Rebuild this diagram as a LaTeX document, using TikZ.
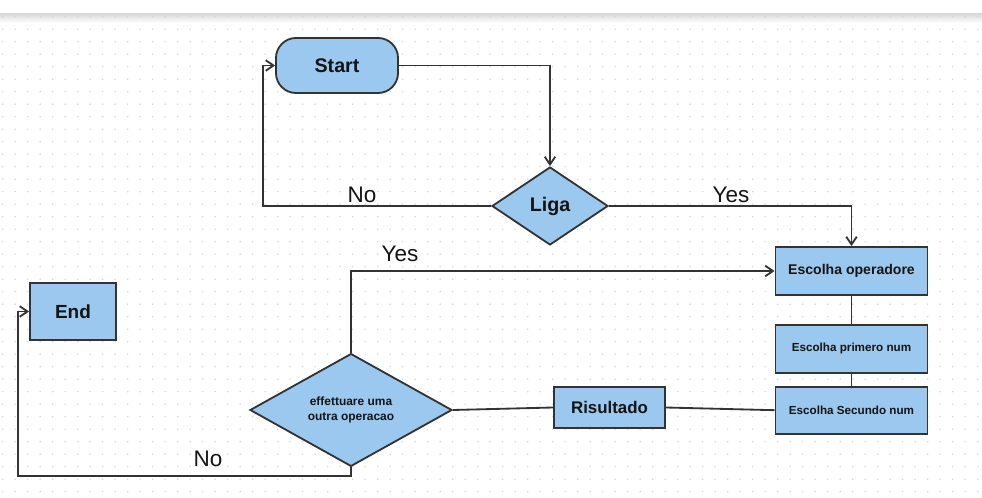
\documentclass[tikz,border=0pt]{standalone}
\usepackage{fontspec}
\setmainfont{Liberation Sans}
\usepackage{tikz}
\usetikzlibrary{shapes,positioning ,arrows.meta}
\usetikzlibrary{calc}

\definecolor{boxblue}{HTML}{9BC8EE}
\definecolor{edgegray}{HTML}{333333}
\definecolor{dotgray}{HTML}{D4D4D4}

\begin{document}
\begin{tikzpicture}[
    x=0.025cm, y=-0.025cm,
    base/.style={draw=edgegray, fill=boxblue, line width=1.3pt, text=black!92, inner sep=0pt, align=center},
    term/.style={base, rectangle, rounded corners=0.5cm, minimum width=3.05cm, minimum height=1.375cm, font=\fontsize{14}{16}\selectfont\bfseries},
    choice/.style={base, diamond, font=\fontsize{14}{16}\selectfont\bfseries},
    box/.style={base, rectangle, minimum width=3.8cm, minimum height=1.2cm, font=\fontsize{8.3}{10}\selectfont\bfseries},
    lbl/.style={font=\fontsize{16}{18}\selectfont, text=black!92},
    conn/.style={draw=edgegray, line width=1.3pt},
    arr/.style={conn, -{Straight Barb[length=5.5pt, width=7.5pt]}}
]
    \useasboundingbox (0,0) rectangle (982,498);
    \fill[white] (0,0) rectangle (982,498);
    \shade[top color=gray!28, bottom color=white] (0,14) rectangle (982,23);
    \foreach \i in {0,...,78}
        \foreach \j in {0,...,38}
            \fill[dotgray] (2.7+12.5*\i, 16.7+12.5*\j) circle (0.8);

    \node[term] (start) at (337,65.5) {Start};
    \node[choice, minimum width=2.9cm, minimum height=1.95cm] (liga) at (550,206) {Liga};
    \node[box, font=\fontsize{10}{12}\selectfont\bfseries] (oper) at (851.5,271) {Escolha operadore};
    \node[box, below=0.7cm of oper] (prim) {Escolha primero num};
    \node[box, below=0.3cm of prim, minimum height=1.175cm] (sec) {Escolha Secundo num};
    \node[box, minimum width=2.775cm, minimum height=1.025cm, font=\fontsize{12}{14}\selectfont\bfseries] (ris) at (609.5,407.5) {Risultado};
    \node[choice, minimum width=5.05cm, minimum height=2.75cm, font=\fontsize{8.5}{10.9}\selectfont\bfseries] (again) at (351,410) {effettuare uma\\outra operacao};
    \node[box, minimum width=2.15cm, minimum height=1.425cm, font=\fontsize{13.5}{16}\selectfont\bfseries] (finish) at (73,311.5) {End};

    \coordinate (backtop) at (263,206);
    \coordinate (backend) at (18,476);

    \draw[arr] (start.east) -| (liga.north);
    \draw[arr] (liga.west) -- (backtop) |- (start.west);
    \draw[arr] (liga.east) -| (oper.north);
    \draw[conn] (oper.south) -- (prim.north);
    \draw[conn] (prim.south) -- (sec.north);
    \draw[conn] (sec.west) -- (ris.east);
    \draw[conn] (ris.west) -- (again.east);
    \draw[arr] (again.north) |- (oper.west);
    \draw[arr] (again.south) |- (backend) |- (finish.west);

    \node[lbl] (nolig) at (362,195) {No};
    \node[lbl] (yeslig) at (731,195) {Yes};
    \node[lbl] (yesagain) at (400,254) {Yes};
    \node[lbl] (noagain) at (208,459) {No};
\end{tikzpicture}
\end{document}
